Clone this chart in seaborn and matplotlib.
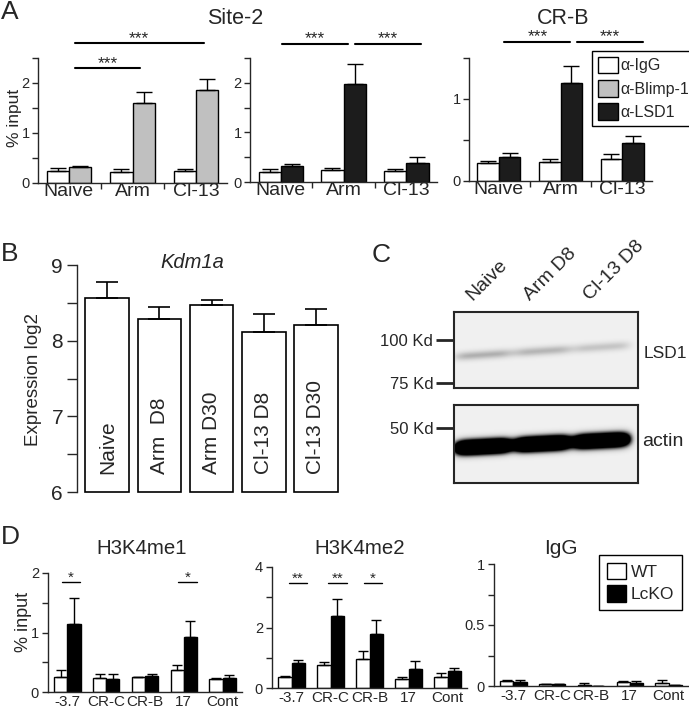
import numpy as np
import pandas as pd
import seaborn as sns
import matplotlib.pyplot as plt
from matplotlib.patches import Patch
from matplotlib.ticker import MultipleLocator

sns.set_style('ticks')
plt.rcParams['font.family'] = ['Liberation Sans', 'DejaVu Sans']
plt.rcParams['axes.linewidth'] = 1.0

# ---- data ----
a_conditions = ['Naive', 'Arm', 'Cl-13']
a_antibodies = ['α-IgG', 'α-Blimp-1', 'α-LSD1']
site2_igg_b = [0.25, 0.23, 0.25]
site2_igg_b_err = [0.05, 0.06, 0.04]
site2_blimp = [0.32, 1.60, 1.87]
site2_blimp_err = [0.02, 0.23, 0.20]
site2_igg_l = [0.20, 0.24, 0.23]
site2_igg_l_err = [0.06, 0.04, 0.04]
site2_lsd1 = [0.32, 1.97, 0.38]
site2_lsd1_err = [0.05, 0.40, 0.12]
crb_igg = [0.22, 0.23, 0.27]
crb_igg_err = [0.03, 0.04, 0.06]
crb_lsd1 = [0.29, 1.20, 0.46]
crb_lsd1_err = [0.05, 0.20, 0.09]

b_groups = ['Naive', 'Arm  D8', 'Arm D30', 'Cl-13 D8', 'Cl-13 D30']
kdm1a = [8.56, 8.29, 8.47, 8.12, 8.21]
kdm1a_err = [0.21, 0.15, 0.07, 0.23, 0.21]

blot_lanes = ['Naive', 'Arm D8', 'Cl-13 D8']
lsd1_band = [0.30, 0.28, 0.22]
actin_band = [3.0, 3.0, 2.8]

d_sites = ['-3.7', 'CR-C', 'CR-B', '17', 'Cont']
d_genotypes = ['WT', 'LcKO']
me1_wt = [0.25, 0.24, 0.25, 0.37, 0.22]
me1_wt_err = [0.12, 0.07, 0.01, 0.09, 0.02]
me1_ko = [1.14, 0.22, 0.27, 0.92, 0.23]
me1_ko_err = [0.44, 0.09, 0.03, 0.27, 0.06]
me2_wt = [0.36, 0.77, 0.95, 0.29, 0.37]
me2_wt_err = [0.05, 0.09, 0.26, 0.08, 0.13]
me2_ko = [0.83, 2.38, 1.80, 0.64, 0.55]
me2_ko_err = [0.11, 0.55, 0.44, 0.25, 0.12]
igg_wt = [0.040, 0.014, 0.010, 0.033, 0.028]
igg_wt_err = [0.010, 0.006, 0.017, 0.007, 0.022]
igg_ko = [0.033, 0.015, 0.003, 0.027, 0.006]
igg_ko_err = [0.017, 0.005, 0.0, 0.018, 0.004]

white, grey, black = '#ffffff', '#c0c0c0', '#1c1c1c'

W, H = 689, 711
fig = plt.figure(figsize=(W / 100, H / 100), dpi=100)


def box(l, t, r, b):
    return fig.add_axes([l / W, 1 - b / H, (r - l) / W, (b - t) / H])


def ftext(x, y, s, **kw):
    fig.text(x / W, 1 - y / H, s, **kw)


def grouped_bars(ax, cats, groups, means, errs, colors, width, capsize):
    rows = []
    for g, m in zip(groups, means):
        for c, v in zip(cats, m):
            rows.append({'cat': c, 'grp': g, 'val': v})
    df = pd.DataFrame(rows)
    sns.barplot(data=df, x='cat', y='val', hue='grp', order=cats, hue_order=groups,
                palette=colors, saturation=1, edgecolor='black', linewidth=1,
                width=width, errorbar=None, legend=False, ax=ax)
    for cont, e in zip(ax.containers, errs):
        xs = [p.get_x() + p.get_width() / 2 for p in cont]
        ys = [p.get_height() for p in cont]
        ax.errorbar(xs, ys, yerr=[np.zeros(len(e)), e], fmt='none', ecolor='black',
                    elinewidth=1, capsize=capsize, capthick=1)
    ax.set_xlabel('')
    ax.set_ylabel('')
    sns.despine(ax=ax)


def sig(ax, x0, x1, y, label, lw=1.5, size=12.5):
    ax.plot([x0, x1], [y, y], color='black', lw=lw, clip_on=False)
    ax.annotate(label, xy=((x0 + x1) / 2, y), xytext=(0, -2), textcoords='offset points',
                ha='center', va='bottom', fontsize=size, annotation_clip=False)


def style_a(ax, top, major):
    ax.set_ylim(0, top)
    ax.set_yticks(major)
    ax.yaxis.set_minor_locator(MultipleLocator(0.5))
    ax.set_xticks(range(3))
    ax.set_xticklabels(a_conditions)
    ax.set_xticks([-0.5, 0.5, 1.5, 2.5], minor=True)
    ax.tick_params(axis='x', which='major', length=0, pad=0, labelsize=14)
    ax.tick_params(axis='x', which='minor', length=4, width=1, direction='out')
    ax.tick_params(axis='y', which='both', length=4.5, width=1, pad=1.5, labelsize=10.5)


# ---- panel A ----
a1 = box(38, 58, 227, 183)
grouped_bars(a1, a_conditions, a_antibodies[:2], [site2_igg_b, site2_blimp],
             [site2_igg_b_err, site2_blimp_err], [white, grey], 0.7, 6)
style_a(a1, 2.5, [0, 1, 2])
sig(a1, 0.09, 2.12, 2.8, '***')
sig(a1, 0.09, 1.12, 2.3, '***')

a2 = box(250, 58, 437, 182)
grouped_bars(a2, a_conditions, [a_antibodies[0], a_antibodies[2]], [site2_igg_l, site2_lsd1],
             [site2_igg_l_err, site2_lsd1_err], [white, black], 0.7, 6)
style_a(a2, 2.5, [0, 1, 2])
sig(a2, 0.03, 1.07, 2.79, '***')
sig(a2, 1.19, 2.23, 2.79, '***')

a3 = box(469, 58, 652, 181)
grouped_bars(a3, a_conditions, [a_antibodies[0], a_antibodies[2]], [crb_igg, crb_lsd1],
             [crb_igg_err, crb_lsd1_err], [white, black], 0.7, 6)
style_a(a3, 1.5, [0, 1])
sig(a3, 0.09, 1.16, 1.70, '***')
sig(a3, 1.27, 2.34, 1.70, '***')

leg_a = a3.legend(handles=[Patch(facecolor=c, edgecolor='black', label=l)
                           for c, l in zip([white, grey, black], a_antibodies)],
                  loc='upper left', bbox_to_anchor=(592 / W, 1 - 51 / H),
                  bbox_transform=fig.transFigure, fancybox=False, edgecolor='black',
                  framealpha=1, fontsize=11.5, handlelength=1.25, handleheight=1.25,
                  handletextpad=0.15, borderpad=0.35, labelspacing=0.4, borderaxespad=0)
leg_a.get_frame().set_linewidth(1)

ftext(15, 118, '% input', rotation=90, ha='center', va='center', fontsize=12.5)
ftext(235, 19, 'Site-2', ha='center', va='center', fontsize=15.5)
ftext(563, 18, 'CR-B', ha='center', va='center', fontsize=15.5)
ftext(1, 12, 'A', ha='left', va='center', fontsize=19)

# ---- panel B ----
b = box(77, 265, 342, 492)
sns.barplot(x=b_groups, y=kdm1a, color=white, saturation=1, edgecolor='black',
            linewidth=1.2, width=0.84, errorbar=None, ax=b)
for p in b.patches:
    p.set_y(6)
    p.set_height(p.get_height() - 6)
    p.set_clip_on(False)
bx = [p.get_x() + p.get_width() / 2 for p in b.patches]
b.errorbar(bx, kdm1a, yerr=[np.zeros(len(kdm1a)), kdm1a_err], fmt='none', ecolor='black',
           elinewidth=1.2, capsize=8, capthick=1.2)
for x, lab in zip(bx, b_groups):
    b.text(x, 6.24, lab, rotation=90, ha='center', va='bottom', fontsize=15)
b.set_ylim(6, 9)
b.set_xlim(-0.58, 4.5)
b.set_yticks([6, 7, 8, 9])
b.yaxis.set_minor_locator(MultipleLocator(0.5))
b.tick_params(axis='y', which='both', length=7, width=1, pad=3, labelsize=15)
b.set_xticks([])
sns.despine(ax=b, bottom=True)
ftext(33, 380, 'Expression log2', rotation=90, ha='center', va='center', fontsize=13.5)
ftext(192, 262, 'Kdm1a', ha='center', va='center', fontsize=14.5, style='italic')
ftext(1, 254, 'B', ha='left', va='center', fontsize=19)


# ---- panel C ----
def blot_image(signal, y_left, y_right, y_sigma, lane_hw):
    yy, xx = np.mgrid[0:1:120j, 0:1:300j]
    img = np.full(yy.shape, 0.12)
    yc = y_left + (y_right - y_left) * xx
    for c, s in zip([0.16, 0.48, 0.80], signal):
        img += s * np.exp(-np.abs((xx - c) / lane_hw) ** 6) * np.exp(-((yy - yc) / y_sigma) ** 2)
    return np.clip(img, 0, 1)


c1 = box(454, 312, 638, 388)
c1.imshow(blot_image(lsd1_band, 0.59, 0.43, 0.06, 0.16), cmap='Greys', vmin=0, vmax=1,
          aspect='auto', extent=[0, 1, 0, 1])
c1.set_xticks([])
c1.set_yticks([0.63, 0.066])
c1.set_yticklabels(['100 Kd', '75 Kd'])
c1.tick_params(axis='y', length=13, width=2, pad=2, labelsize=12)
for s in c1.spines.values():
    s.set_linewidth(1.5)

c2 = box(454, 405, 638, 483)
c2.imshow(blot_image(actin_band, 0.56, 0.44, 0.085, 0.155), cmap='Greys', vmin=0, vmax=1,
          aspect='auto', extent=[0, 1, 0, 1])
c2.set_xticks([])
c2.set_yticks([0.705])
c2.set_yticklabels(['50 Kd'])
c2.tick_params(axis='y', length=13, width=2, pad=2, labelsize=12)
for s in c2.spines.values():
    s.set_linewidth(1.5)

for x, lab in zip([475, 533, 593], blot_lanes):
    ftext(x, 304, lab, rotation=45, rotation_mode='anchor', ha='left', va='bottom', fontsize=14)
ftext(644, 354, 'LSD1', ha='left', va='center', fontsize=12.5)
ftext(642, 441, 'actin', ha='left', va='center', fontsize=14)
ftext(372, 255, 'C', ha='left', va='center', fontsize=19)


# ---- panel D ----
def style_d(ax, top, major, minor):
    ax.set_ylim(0, top)
    ax.set_yticks(major)
    ax.yaxis.set_minor_locator(MultipleLocator(minor))
    ax.set_xlim(-0.5, 4.5)
    ax.tick_params(axis='x', length=0, pad=2, labelsize=11)
    ax.tick_params(axis='y', which='both', length=4.5, width=1, pad=2, labelsize=10.5)


d1 = box(48, 573, 242, 692)
grouped_bars(d1, d_sites, d_genotypes, [me1_wt, me1_ko], [me1_wt_err, me1_ko_err],
             [white, 'black'], 0.68, 3.6)
style_d(d1, 2, [0, 1, 2], 0.5)
sig(d1, -0.14, 0.32, 1.85, '*', lw=1, size=11)
sig(d1, 2.85, 3.34, 1.85, '*', lw=1, size=11)

d2 = box(272, 567, 467, 688)
grouped_bars(d2, d_sites, d_genotypes, [me2_wt, me2_ko], [me2_wt_err, me2_ko_err],
             [white, 'black'], 0.68, 3.6)
style_d(d2, 4, [0, 2, 4], 1)
sig(d2, -0.06, 0.40, 3.47, '**', lw=1, size=11)
sig(d2, 0.94, 1.42, 3.47, '**', lw=1, size=11)
sig(d2, 1.86, 2.32, 3.47, '*', lw=1, size=11)

d3 = box(494, 564, 688, 686)
grouped_bars(d3, d_sites, d_genotypes, [igg_wt, igg_ko], [igg_wt_err, igg_ko_err],
             [white, 'black'], 0.68, 3.6)
style_d(d3, 1, [0, 0.5, 1], 0.25)
d3.set_yticklabels(['0', '0.5', '1'])
leg_d = d3.legend(handles=[Patch(facecolor=c, edgecolor='black', label=l)
                           for c, l in zip([white, 'black'], d_genotypes)],
                  loc='upper left', bbox_to_anchor=(599 / W, 1 - 555 / H),
                  bbox_transform=fig.transFigure, fancybox=False, edgecolor='black',
                  framealpha=1, fontsize=12.5, handlelength=1.1, handleheight=1.1,
                  handletextpad=0.3, borderpad=0.45, labelspacing=0.3, borderaxespad=0)
leg_d.get_frame().set_linewidth(1)

ftext(23, 622, '% input', rotation=90, ha='center', va='center', fontsize=13)
ftext(142, 548, 'H3K4me1', ha='center', va='center', fontsize=14.7)
ftext(360, 548, 'H3K4me2', ha='center', va='center', fontsize=14.7)
ftext(561, 548, 'IgG', ha='center', va='center', fontsize=15)
ftext(1, 537, 'D', ha='left', va='center', fontsize=19)

fig.savefig('out.png', dpi=100)
